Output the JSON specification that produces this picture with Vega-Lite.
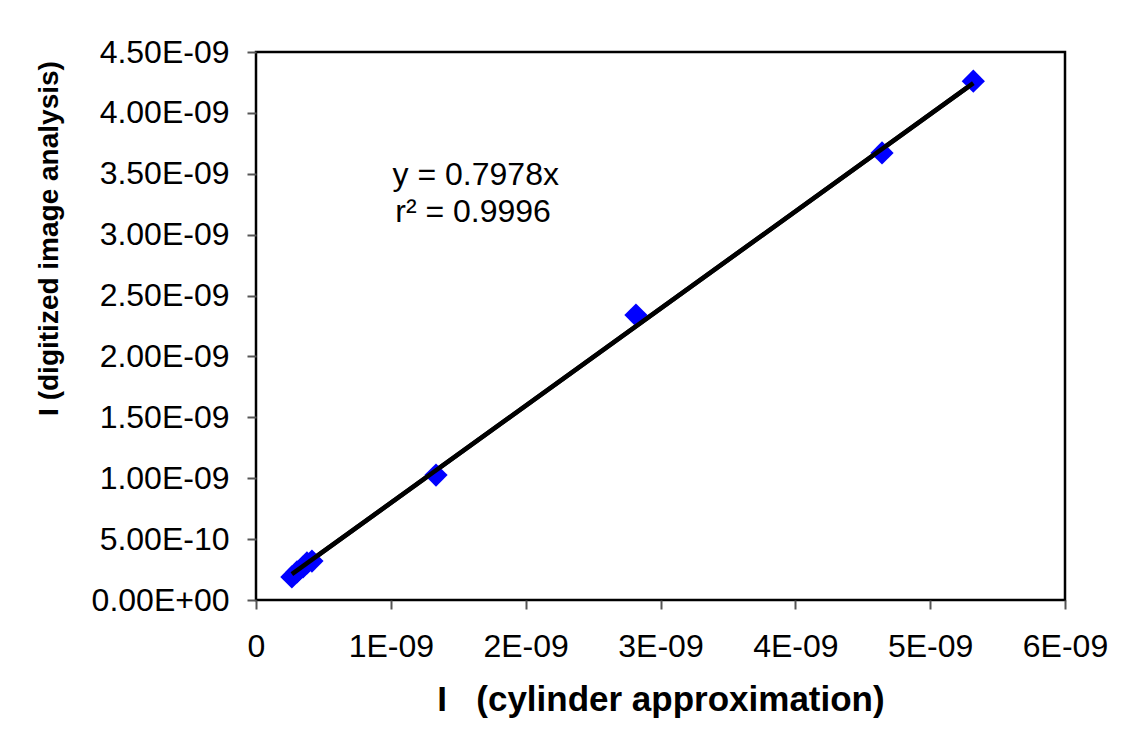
{
  "$schema": "https://vega.github.io/schema/vega-lite/v6.json",
  "width": 809,
  "height": 548,
  "autosize": "none",
  "padding": {"left": 256, "top": 52, "right": 70, "bottom": 153},
  "background": "white",
  "config": {
    "font": "Liberation Sans",
    "view": {"stroke": "black", "strokeWidth": 2.5},
    "axis": {
      "grid": false,
      "domain": false,
      "ticks": true,
      "tickColor": "#555555",
      "tickWidth": 2,
      "tickSize": 9,
      "labelFont": "Liberation Sans",
      "labelFontSize": 32,
      "labelColor": "black",
      "titleFont": "Liberation Sans",
      "titleFontWeight": "bold",
      "titleColor": "black"
    }
  },
  "datasets": {
    "measurements": [
      {"cylinder": 2.66e-10, "digitized": 1.89e-10},
      {"cylinder": 3.04e-10, "digitized": 2.30e-10},
      {"cylinder": 3.49e-10, "digitized": 2.71e-10},
      {"cylinder": 3.78e-10, "digitized": 3.04e-10},
      {"cylinder": 4.15e-10, "digitized": 3.20e-10},
      {"cylinder": 1.335e-9, "digitized": 1.026e-9},
      {"cylinder": 2.818e-9, "digitized": 2.340e-9},
      {"cylinder": 4.643e-9, "digitized": 3.671e-9},
      {"cylinder": 5.320e-9, "digitized": 4.260e-9}
    ],
    "trendline": [
      {"cylinder": 2.66e-10, "digitized": 2.122e-10},
      {"cylinder": 5.320e-9, "digitized": 4.244e-9}
    ]
  },
  "layer": [
    {
      "data": {"name": "trendline"},
      "mark": {"type": "line", "color": "black", "strokeWidth": 4.5, "clip": false},
      "encoding": {
        "x": {
          "field": "cylinder",
          "type": "quantitative",
          "scale": {"domain": [0, 6e-9], "nice": false, "zero": true},
          "axis": {
            "values": [0, 1e-9, 2e-9, 3e-9, 4e-9, 5e-9, 6e-9],
            "labelExpr": "datum.value == 0 ? '0' : format(datum.value * 1e9, '.0f') + 'E-09'",
            "labelPadding": 22,
            "labelFlush": false,
            "labelOverlap": false,
            "title": "I\u00a0\u00a0\u00a0(cylinder approximation)",
            "titleFontSize": 35,
            "titleBaseline": "alphabetic",
            "titleY": 110
          }
        },
        "y": {
          "field": "digitized",
          "type": "quantitative",
          "scale": {"domain": [0, 4.5e-9], "nice": false, "zero": true},
          "axis": {
            "values": [0, 5e-10, 1e-9, 1.5e-9, 2e-9, 2.5e-9, 3e-9, 3.5e-9, 4e-9, 4.5e-9],
            "labelExpr": "datum.value == 0 ? '0.00E+00' : datum.value < 9.9e-10 ? format(datum.value * 1e10, '.2f') + 'E-10' : format(datum.value * 1e9, '.2f') + 'E-09'",
            "labelPadding": 18,
            "labelFlush": false,
            "labelOverlap": false,
            "title": "I\u00a0(digitized image analysis)",
            "titleFontSize": 28,
            "titleAngle": -90,
            "titleAlign": "center",
            "titleBaseline": "middle",
            "titleX": -207,
            "titleY": 186
          }
        }
      }
    },
    {
      "data": {"name": "measurements"},
      "mark": {"type": "point", "shape": "diamond", "filled": true, "color": "#0000FF", "opacity": 1, "size": 540, "clip": false},
      "encoding": {
        "x": {"field": "cylinder", "type": "quantitative"},
        "y": {"field": "digitized", "type": "quantitative"}
      }
    },
    {
      "data": {"name": "trendline"},
      "mark": {"type": "line", "color": "black", "strokeWidth": 4.5, "clip": false},
      "encoding": {
        "x": {"field": "cylinder", "type": "quantitative"},
        "y": {"field": "digitized", "type": "quantitative"}
      }
    },
    {
      "data": {"values": [{}]},
      "mark": {"type": "text", "fontSize": 32, "color": "black", "align": "center", "baseline": "alphabetic"},
      "encoding": {
        "x": {"datum": 1.63e-9, "type": "quantitative"},
        "y": {"datum": 3.408e-9, "type": "quantitative"},
        "text": {"value": "y = 0.7978x"}
      }
    },
    {
      "data": {"values": [{}]},
      "mark": {"type": "text", "fontSize": 32, "color": "black", "align": "center", "baseline": "alphabetic"},
      "encoding": {
        "x": {"datum": 1.61e-9, "type": "quantitative"},
        "y": {"datum": 3.104e-9, "type": "quantitative"},
        "text": {"value": "r² = 0.9996"}
      }
    }
  ]
}
